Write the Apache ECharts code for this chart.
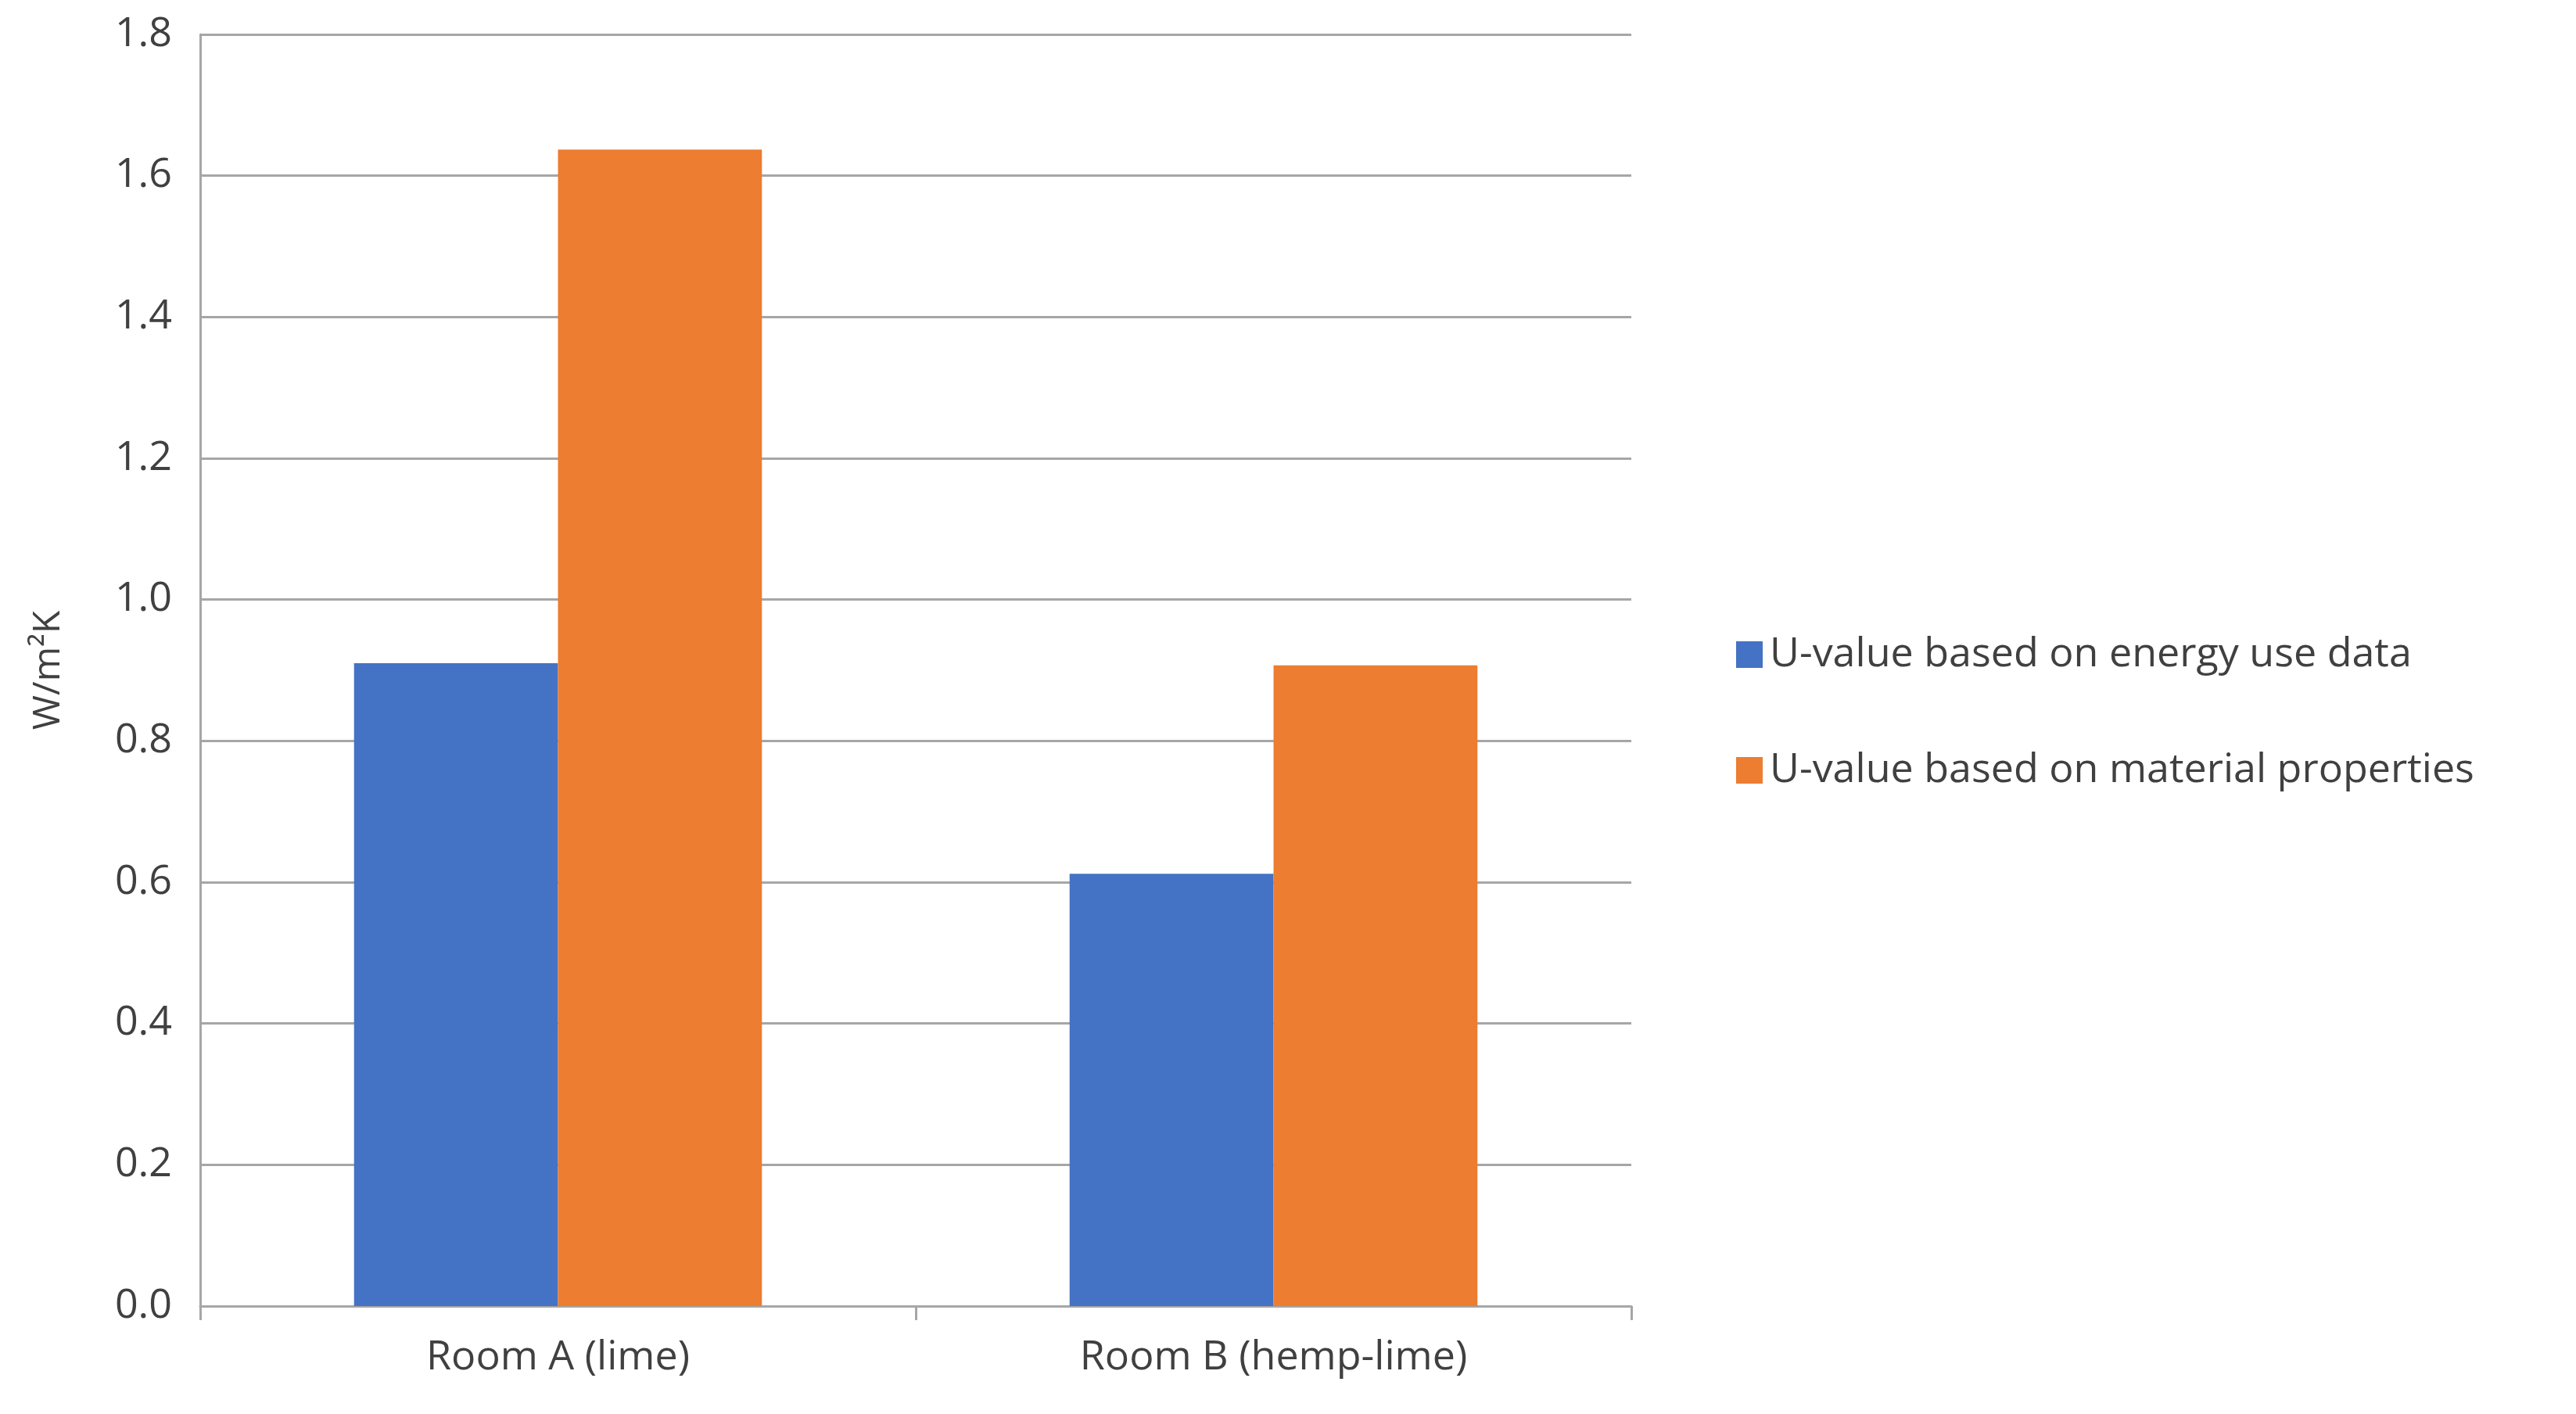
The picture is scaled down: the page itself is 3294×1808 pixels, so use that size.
<!DOCTYPE html>
<html>
<head>
<meta charset="utf-8">
<script src="https://cdn.jsdelivr.net/npm/echarts@6/dist/echarts.min.js"></script>
<style>html,body{margin:0;padding:0;background:#fff}#chart{width:3294px;height:1808px}</style>
</head>
<body>
<div id="chart"></div>
<script>
const categories = ['Room A (lime)', 'Room B (hemp-lime)'];
const energyUse = [0.91, 0.612];
const materialProps = [1.637, 0.907];
const seriesNames = ['U-value based on energy use data', 'U-value based on material properties'];

const FONT = 'Open Sans';
const chart = echarts.init(document.getElementById('chart'));
chart.setOption({
  animation: false,
  textStyle: { fontFamily: FONT },
  grid: { left: 256, right: 1208, top: 44, bottom: 138 },
  legend: {
    orient: 'vertical',
    left: 2215,
    top: 806,
    itemWidth: 34,
    itemHeight: 34,
    itemGap: 96,
    icon: 'rect',
    textStyle: { fontSize: 52, color: '#404040', fontFamily: FONT, padding: [0, 0, 0, 4] },
    data: seriesNames,
  },
  xAxis: {
    type: 'category',
    data: categories,
    axisLine: { lineStyle: { color: '#a6a6a6', width: 3 } },
    axisTick: { show: true, length: 18, lineStyle: { color: '#a6a6a6', width: 3 } },
    axisLabel: { fontSize: 52, color: '#404040', margin: 40 },
  },
  yAxis: {
    type: 'value',
    min: 0,
    max: 1.8,
    interval: 0.2,
    name: 'W/m²K',
    nameLocation: 'middle',
    nameGap: 170,
    nameTextStyle: { fontSize: 48, color: '#404040' },
    axisLine: { show: true, lineStyle: { color: '#a6a6a6', width: 3 } },
    axisLabel: { fontSize: 52, color: '#404040', margin: 36, formatter: (v) => v.toFixed(1) },
    splitLine: { lineStyle: { color: '#a6a6a6', width: 3 } },
  },
  series: [
    { name: seriesNames[0], type: 'bar', data: energyUse, barGap: '0%', barCategoryGap: '43%', itemStyle: { color: '#4472c4' } },
    { name: seriesNames[1], type: 'bar', data: materialProps, itemStyle: { color: '#ed7d31' } },
  ],
});
</script>
</body>
</html>
